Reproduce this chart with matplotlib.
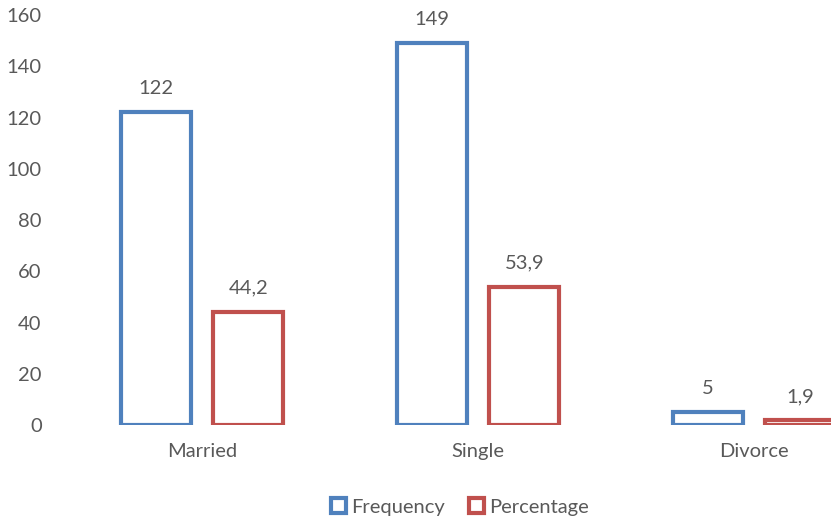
import matplotlib.pyplot as plt
import numpy as np
from matplotlib.patches import Patch

categories = ['Married', 'Single', 'Divorce']
frequency = [122, 149, 5]
percentage = [44.2, 53.9, 1.9]
yticks = [0, 20, 40, 60, 80, 100, 120, 140, 160]

blue = '#4F81BD'
red = '#C0504D'
grey = '#595959'
fs = 14.5

plt.rcParams['font.family'] = ['Lato', 'DejaVu Sans']

fig = plt.figure(figsize=(8.31, 5.21), dpi=100)
ax = fig.add_axes([0.077, 0.184, 0.923, 0.787])

x = np.arange(len(categories))
w = 0.254
off = 0.168

b1 = ax.bar(x - off, frequency, w, facecolor='white', edgecolor=blue, linewidth=3)
b2 = ax.bar(x + off, percentage, w, facecolor='white', edgecolor=red, linewidth=3)

# value labels, comma as decimal separator
for bars, vals in ((b1, frequency), (b2, percentage)):
    for bar, v in zip(bars, vals):
        txt = str(v).replace('.', ',')
        ax.annotate(txt, (bar.get_x() + bar.get_width() / 2, v),
                    xytext=(0, 11), textcoords='offset points',
                    ha='center', va='bottom', fontsize=fs, color=grey)

ax.set_xlim(-0.5, 2.279)
ax.set_ylim(0, 160)
ax.set_yticks(yticks)
ax.set_xticks(x)
ax.set_xticklabels(categories)
ax.tick_params(axis='both', length=0, labelsize=fs, colors=grey)
ax.tick_params(axis='x', pad=13)
ax.tick_params(axis='y', pad=16)
for s in ax.spines.values():
    s.set_visible(False)

handles = [Patch(facecolor='white', edgecolor=blue, linewidth=3, label='Frequency'),
           Patch(facecolor='white', edgecolor=red, linewidth=3, label='Percentage')]
fig.legend(handles=handles, loc='center', bbox_to_anchor=(0.553, 0.027), ncol=2,
           frameon=False, fontsize=fs, labelcolor=grey,
           handlelength=0.75, handleheight=0.75, handletextpad=0.25, columnspacing=1.2)

fig.savefig('out.png', dpi=100)
